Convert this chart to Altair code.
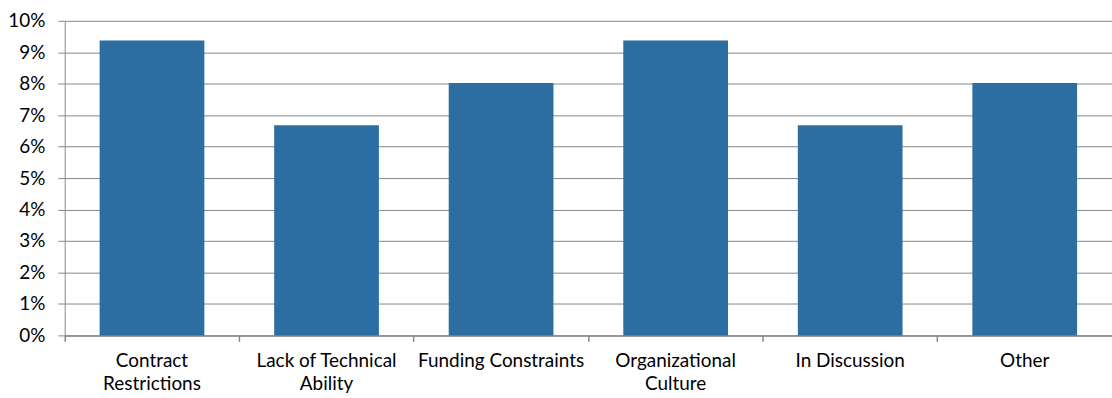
import json
import altair as alt
import pandas as pd

categories = [
    "Contract Restrictions",
    "Lack of Technical Ability",
    "Funding Constraints",
    "Organizational Culture",
    "In Discussion",
    "Other",
]
values = [0.0937, 0.0668, 0.0802, 0.0937, 0.0668, 0.0802]
label_lines = {
    "Contract Restrictions": ["Contract", "Restrictions"],
    "Lack of Technical Ability": ["Lack of Technical", "Ability"],
    "Funding Constraints": ["Funding Constraints"],
    "Organizational Culture": ["Organizational", "Culture"],
    "In Discussion": ["In Discussion"],
    "Other": ["Other"],
}

df = pd.DataFrame({"category": categories, "value": values})
label_expr = json.dumps(label_lines) + "[datum.label]"

FONT = "Lato"
GRID = "#878787"
BAR = "#2C6EA2"
PLOT_W = 1052

x_scale = alt.Scale(domain=categories, paddingInner=0, paddingOuter=0)
y_scale = alt.Scale(domain=[0, 0.10])

bars = alt.Chart(df).mark_bar(color=BAR, width={"band": 0.6}).encode(
    x=alt.X(
        "category:N",
        sort=categories,
        scale=x_scale,
        title=None,
        axis=alt.Axis(
            orient="bottom",
            bandPosition=0,
            labelAngle=0,
            labelExpr=label_expr,
            labelFont=FONT,
            labelFontSize=19,
            labelColor="#000000",
            labelLineHeight=23,
            labelPadding=10,
            ticks=True,
            tickSize=6,
            tickColor=GRID,
            tickWidth=1.5,
            domainColor=GRID,
            domainWidth=1.5,
            grid=False,
        ),
    ),
    y=alt.Y(
        "value:Q",
        scale=y_scale,
        title=None,
        axis=alt.Axis(
            format=".0%",
            values=[i / 100 for i in range(11)],
            labelFont=FONT,
            labelFontSize=19,
            labelColor="#000000",
            labelPadding=13,
            tickSize=7,
            tickColor=GRID,
            domainColor=GRID,
            gridColor=GRID,
            gridWidth=1,
            grid=True,
        ),
    ),
)

chart = (
    bars
    .properties(
        width=PLOT_W,
        height=316,
        autosize="none",
        padding={"left": 65, "top": 20, "right": 0, "bottom": 62},
        background="#ffffff",
    )
    .configure_view(stroke=None)
)

chart.save("out.html", embed_options={"renderer": "svg", "actions": False})
